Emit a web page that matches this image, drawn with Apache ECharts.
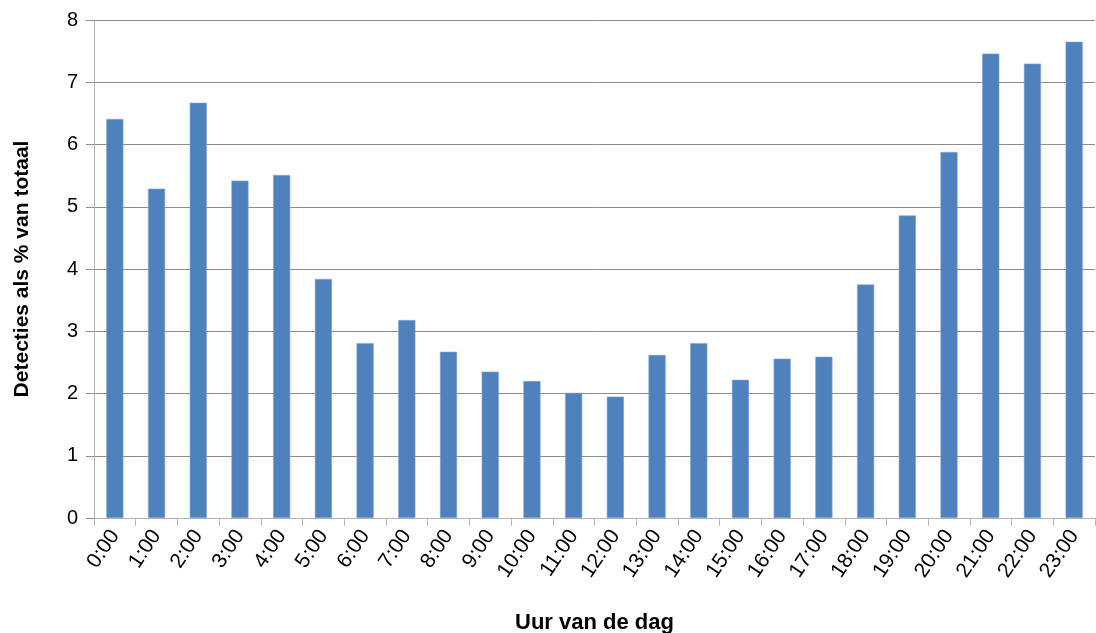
<!DOCTYPE html>
<html>
<head>
<meta charset="utf-8">
<script src="https://cdn.jsdelivr.net/npm/echarts@6/dist/echarts.min.js"></script>
<style>
  html, body { margin: 0; padding: 0; background: #fff; }
  #main { width: 1096px; height: 633px; }
</style>
</head>
<body>
<div id="main"></div>
<script>
var hours = ['0:00', '1:00', '2:00', '3:00', '4:00', '5:00', '6:00', '7:00', '8:00', '9:00', '10:00', '11:00',
    '12:00', '13:00', '14:00', '15:00', '16:00', '17:00', '18:00', '19:00', '20:00', '21:00', '22:00', '23:00'];
var detecties = [6.41, 5.29, 6.67, 5.42, 5.51, 3.84, 2.81, 3.18, 2.67, 2.35, 2.20, 2.01,
    1.95, 2.62, 2.81, 2.22, 2.56, 2.59, 3.75, 4.86, 5.88, 7.46, 7.30, 7.65];

var myChart = echarts.init(document.getElementById('main'));
var font = 'Liberation Sans, Arial, sans-serif';

var option = {
    animation: false,
    grid: { left: 94, right: 1, top: 20, bottom: 115, containLabel: false, outerBoundsMode: 'none' },
    xAxis: {
        type: 'category',
        data: hours,
        name: 'Uur van de dag',
        nameLocation: 'middle',
        nameGap: 94,
        nameTextStyle: { fontFamily: font, fontSize: 22, fontWeight: 'bold', color: '#000' },
        axisLine: { lineStyle: { color: '#b3b3b3', width: 1 } },
        axisTick: { show: true, length: 8, alignWithLabel: false, lineStyle: { color: '#b3b3b3' } },
        axisLabel: { rotate: 56, fontFamily: font, fontSize: 21, color: '#000', margin: 14, interval: 0 }
    },
    yAxis: {
        type: 'value',
        min: 0,
        max: 8,
        interval: 1,
        name: 'Detecties als % van totaal',
        nameLocation: 'middle',
        nameGap: 61,
        nameTextStyle: { fontFamily: font, fontSize: 21, fontWeight: 'bold', color: '#000' },
        axisLine: { show: true, lineStyle: { color: '#b3b3b3', width: 1 } },
        axisTick: { show: true, length: 8, lineStyle: { color: '#8c8c8c' } },
        axisLabel: { fontFamily: font, fontSize: 20, color: '#000', margin: 16 },
        splitLine: { lineStyle: { color: '#8c8c8c', width: 1 } }
    },
    series: [{
        type: 'bar',
        data: detecties,
        barWidth: '41%',
        itemStyle: { color: '#4f81bd', borderColor: '#7ea3d3', borderWidth: 0.6 }
    }]
};
myChart.setOption(option);
</script>
</body>
</html>
